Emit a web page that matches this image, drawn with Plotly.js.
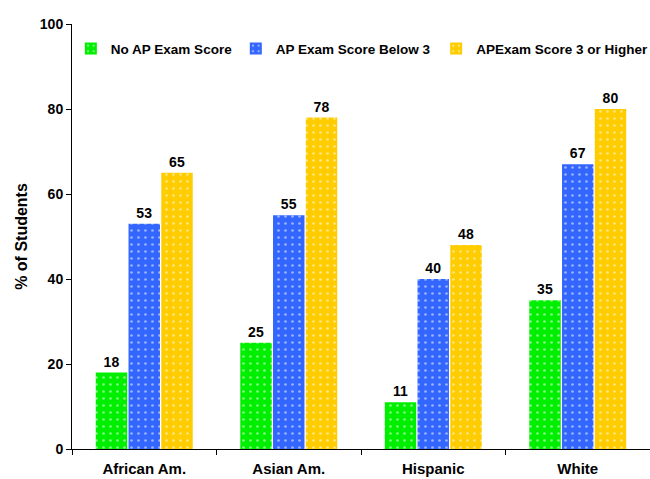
<!DOCTYPE html>
<html>
<head>
<meta charset="utf-8">
<script src="https://cdn.plot.ly/plotly-3.0.1.min.js"></script>
<style>html,body{margin:0;padding:0;background:#fff;}#chart{width:650px;height:479px;}</style>
</head>
<body>
<div id="chart"></div>
<script>
const categories = ["African Am.", "Asian Am.", "Hispanic", "White"];
const seriesNames = ["No AP Exam Score", "AP Exam Score Below 3", "APExam Score 3 or Higher"];
const noAP = [18, 25, 11, 35];
const below3 = [53, 55, 40, 67];
const threeOrHigher = [65, 78, 48, 80];
const yTicks = [0, 20, 40, 60, 80, 100];

const colors = ["#00EE00", "#3366FF", "#FFCC00"];
const seriesValues = [noAP, below3, threeOrHigher];
const legendIds = ["legend", "legend2", "legend3"];
const legendX = [-0.002, 0.2834, 0.630];
const font = {family: "Liberation Sans, Arial, sans-serif", color: "#000", weight: "bold"};

const traces = seriesValues.map((vals, i) => ({
  type: "bar",
  name: seriesNames[i],
  legend: legendIds[i],
  x: categories,
  y: vals,
  text: vals.map(String),
  textposition: "outside",
  cliponaxis: false,
  textfont: Object.assign({}, font, {size: 14}),
  marker: {
    color: colors[i],
    line: {width: 0},
    pattern: {shape: ".", fgcolor: "#ffffff", bgcolor: colors[i], size: 7, solidity: 0.12, fillmode: "overlay"}
  }
}));

const layout = {
  width: 650, height: 479,
  margin: {l: 72, r: 0, t: 24, b: 30, autoexpand: false},
  paper_bgcolor: "#fff", plot_bgcolor: "#fff",
  font: font,
  showlegend: true,
  bargap: 0.32, bargroupgap: 0.04,
  xaxis: {
    showline: true, linecolor: "#000", linewidth: 1,
    ticks: "outside", tickson: "boundaries", ticklen: 5, tickcolor: "#000",
    tickfont: Object.assign({}, font, {size: 15}),
    ticklabelstandoff: 6,
    showgrid: false, zeroline: false, fixedrange: true
  },
  yaxis: {
    range: [0, 100], tickvals: yTicks, ticktext: yTicks.map(String),
    showline: true, linecolor: "#000", linewidth: 1,
    ticks: "outside", ticklen: 5, tickcolor: "#000",
    tickfont: Object.assign({}, font, {size: 14}),
    showgrid: false, zeroline: false,
    title: {text: "% of Students", font: Object.assign({}, font, {size: 16}), standoff: 8}
  }
};
legendIds.forEach((id, i) => {
  layout[id] = {
    orientation: "h", x: legendX[i], y: 0.942, xanchor: "left", yanchor: "middle",
    font: Object.assign({}, font, {size: 13.5}), bgcolor: "rgba(0,0,0,0)",
    itemwidth: 30
  };
});

Plotly.newPlot("chart", traces, layout, {displayModeBar: false, staticPlot: true});
</script>
</body>
</html>
